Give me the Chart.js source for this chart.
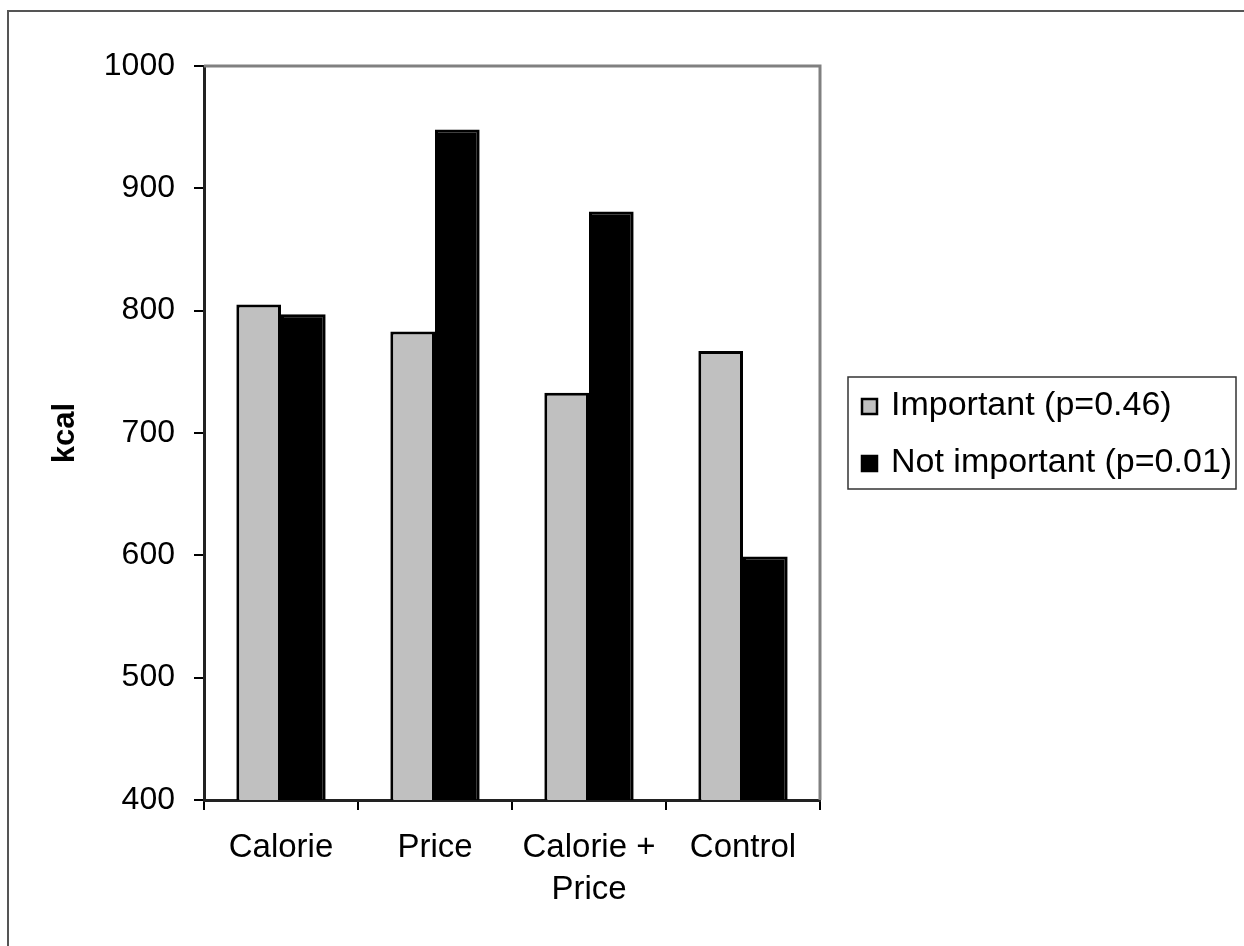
<!DOCTYPE html>
<html>
<head>
<meta charset="utf-8">
<script src="https://cdn.jsdelivr.net/npm/chart.js@4"></script>
<style>
  html, body { margin: 0; padding: 0; background: #fff; }
  #wrap { width: 1244px; height: 946px; position: relative; }
  canvas { display: block; }
</style>
</head>
<body>
<div id="wrap"><canvas id="c" width="1244" height="946"></canvas></div>
<script>
const categories = [["Calorie"], ["Price"], ["Calorie +", "Price"], ["Control"]];
const seriesNames = ["Important (p=0.46)", "Not important (p=0.01)"];
const importantValues = [805, 783, 733, 767];
const notImportantValues = [797, 948, 881, 599];
const yTicks = [400, 500, 600, 700, 800, 900, 1000];
const yTickLabels = ["400", "500", "600", "700", "800", "900", "1000"];
const axisTitle = "kcal";

const FONT = "'Liberation Sans', Arial, sans-serif";

const framePlugin = {
  id: 'frame',
  beforeDraw(chart) {
    const ctx = chart.ctx;
    ctx.save();
    ctx.fillStyle = '#fff';
    ctx.fillRect(0, 0, chart.width, chart.height);
    ctx.strokeStyle = '#555';
    ctx.lineWidth = 2;
    ctx.beginPath();
    ctx.moveTo(8, chart.height + 5);
    ctx.lineTo(8, 11);
    ctx.lineTo(chart.width + 5, 11);
    ctx.stroke();
    ctx.restore();
  },
  afterDatasetsDraw(chart) {
    const a = chart.chartArea;
    const ctx = chart.ctx;
    ctx.save();
    ctx.strokeStyle = '#808080';
    ctx.lineWidth = 3;
    ctx.beginPath();
    ctx.moveTo(a.left, a.top);
    ctx.lineTo(a.right, a.top);
    ctx.lineTo(a.right, a.bottom);
    ctx.stroke();
    ctx.restore();
  },
  afterDraw(chart) {
    // boxed legend built from the datasets
    const ctx = chart.ctx;
    const bx = 848, by = 377, bw = 388, bh = 112;
    ctx.save();
    ctx.strokeStyle = '#333';
    ctx.lineWidth = 1.5;
    ctx.strokeRect(bx, by, bw, bh);
    ctx.font = '34px ' + FONT;
    ctx.textBaseline = 'middle';
    ctx.textAlign = 'left';
    chart.data.datasets.forEach((ds, i) => {
      const cy = by + 29 + i * 57;
      ctx.fillStyle = ds.backgroundColor;
      ctx.fillRect(862, cy - 7, 15, 15);
      ctx.strokeStyle = '#000';
      ctx.lineWidth = 2.5;
      ctx.strokeRect(862, cy - 7, 15, 15);
      ctx.fillStyle = '#000';
      ctx.fillText(ds.label, 891, cy);
    });
    ctx.restore();
  }
};

new Chart(document.getElementById('c'), {
  type: 'bar',
  data: {
    labels: categories,
    datasets: [
      { label: seriesNames[0], data: importantValues, backgroundColor: '#c0c0c0', borderColor: '#000', borderWidth: 3, borderSkipped: 'start' },
      { label: seriesNames[1], data: notImportantValues, backgroundColor: '#000000', borderColor: '#000', borderWidth: 3, borderSkipped: 'start' }
    ]
  },
  options: {
    responsive: false,
    devicePixelRatio: 1,
    animation: false,
    events: [],
    layout: { padding: { left: 0, right: 424, top: 66, bottom: 0 } },
    datasets: { bar: { categoryPercentage: 0.58, barPercentage: 1.0 } },
    plugins: { legend: { display: false }, tooltip: { enabled: false }, title: { display: false } },
    scales: {
      x: {
        grid: { display: true, drawOnChartArea: false, drawTicks: true, tickLength: 10, color: '#000', offset: true, lineWidth: 2 },
        border: { display: true, color: '#222', width: 3 },
        ticks: { color: '#000', font: { family: FONT, size: 33, lineHeight: 1.27 }, padding: 17, maxRotation: 0, autoSkip: false },
        afterFit(s) { s.height = 146; }
      },
      y: {
        min: 400, max: 1000,
        afterBuildTicks(s) { s.ticks = yTicks.map(v => ({ value: v })); },
        grid: { display: true, drawOnChartArea: false, drawTicks: true, tickLength: 10, color: '#000', lineWidth: 2 },
        border: { display: true, color: '#222', width: 3 },
        ticks: { color: '#000', font: { family: FONT, size: 32 }, padding: 19,
          callback: (v) => { const i = yTicks.indexOf(v); return i >= 0 ? yTickLabels[i] : ''; } },
        title: { display: true, text: axisTitle, color: '#000', font: { family: FONT, size: 31, weight: 'bold' }, padding: { top: 47, bottom: 0 } },
        afterFit(s) { s.width = 204; }
      }
    }
  },
  plugins: [framePlugin]
});
</script>
</body>
</html>
